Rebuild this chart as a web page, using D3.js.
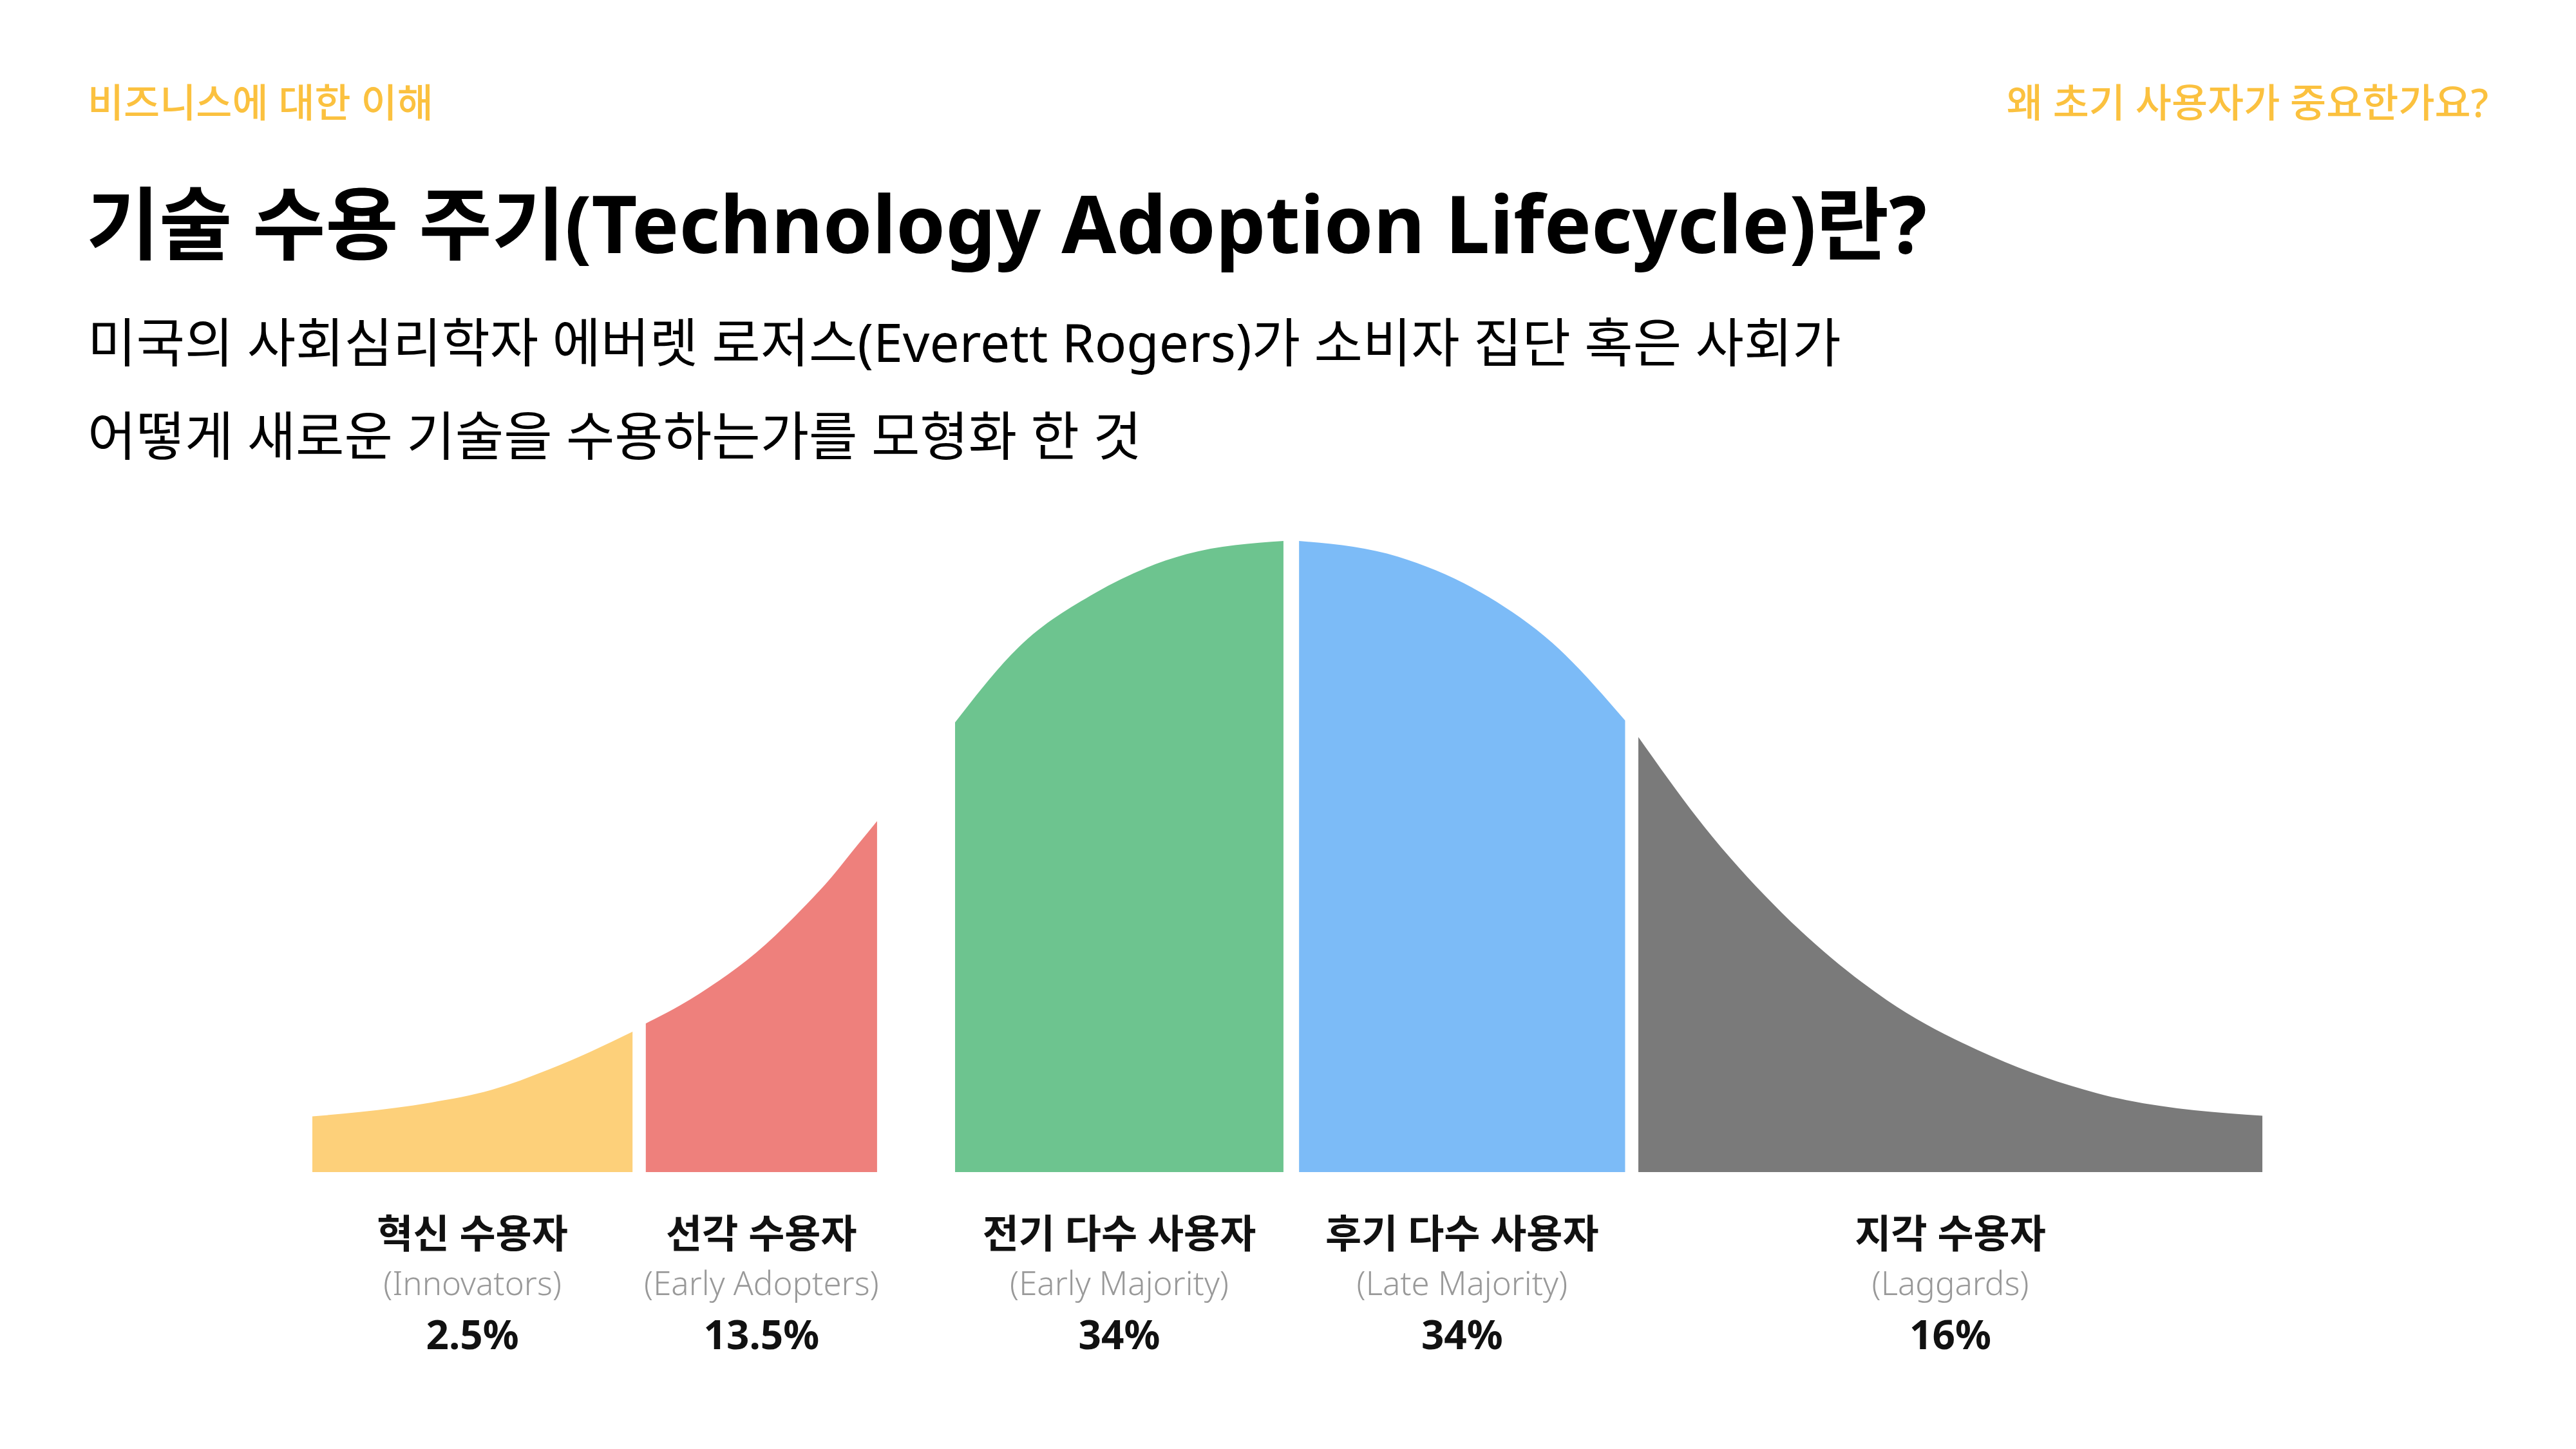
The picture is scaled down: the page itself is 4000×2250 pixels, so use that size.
<!DOCTYPE html>
<html lang="ko">
<head>
<meta charset="utf-8">
<script src="https://cdn.jsdelivr.net/npm/d3@7"></script>
<style>
    body { margin: 0; background: #ffffff; }
    text { font-family: "Noto Sans", "Noto Sans CJK KR", sans-serif; }
</style>
</head>
<body>
<script>
// Adopter groups
const groupNames = ["혁신 수용자", "선각 수용자", "전기 다수 사용자", "후기 다수 사용자", "지각 수용자"];
const groupNamesEn = ["(Innovators)", "(Early Adopters)", "(Early Majority)", "(Late Majority)", "(Laggards)"];
const groupShares = [2.5, 13.5, 34, 34, 16];

// Where each group starts and ends on the curve (in standard deviations)
const groupStart = [-2.5, -1.645, -0.852, 0.03, 0.9];
const groupEnd = [-1.679, -1.052, -0.01, 0.866, 2.5];

// Bell curve (x in standard deviations, height relative to the peak)
const curveX = [-2.5, -2.379, -2.195, -2.04, -1.895, -1.788, -1.679,
    -1.645, -1.556, -1.459, -1.362, -1.265, -1.168, -1.101, -1.052,
    -0.852, -0.689, -0.492, -0.259, -0.01,
    0.03, 0.284, 0.517, 0.679, 0.866,
    0.9, 1.09, 1.268, 1.537, 1.806, 2.074, 2.5];
const curveH = [0.088, 0.095, 0.11, 0.13, 0.162, 0.19, 0.222,
    0.235, 0.264, 0.302, 0.347, 0.403, 0.467, 0.518, 0.555,
    0.711, 0.83, 0.916, 0.977, 0.998,
    0.998, 0.973, 0.909, 0.837, 0.714,
    0.688, 0.53, 0.41, 0.272, 0.183, 0.125, 0.089];

const groupColors = ["#fdd07a", "#ee807c", "#6dc48f", "#7cbbf7", "#7a7a7a"];

let svg = d3.select("body").append("svg")
    .attr("width", 4000)
    .attr("height", 2250);

// Header texts
svg.append("text")
    .attr("x", 136)
    .attr("y", 182)
    .attr("font-size", 61)
    .attr("font-weight", 500)
    .attr("fill", "#fbc13f")
    .text("비즈니스에 대한 이해");

svg.append("text")
    .attr("x", 3864)
    .attr("y", 182)
    .attr("text-anchor", "end")
    .attr("font-size", 61)
    .attr("font-weight", 500)
    .attr("fill", "#fbc13f")
    .text("왜 초기 사용자가 중요한가요?");

svg.append("text")
    .attr("x", 134)
    .attr("y", 393)
    .attr("font-size", 123)
    .attr("font-weight", 700)
    .attr("fill", "#000000")
    .text("기술 수용 주기(Technology Adoption Lifecycle)란?");

let subtitle = ["미국의 사회심리학자 에버렛 로저스(Everett Rogers)가 소비자 집단 혹은 사회가",
    "어떻게 새로운 기술을 수용하는가를 모형화 한 것"];

svg.selectAll(".subtitle")
    .data(subtitle)
    .enter().append("text")
        .attr("class", "subtitle")
        .attr("x", 136)
        .attr("y", (d, i) => 562 + i * 145)
        .attr("font-size", 82)
        .attr("fill", "#000000")
        .text(d => d);

// Scales
let x = d3.scaleLinear().domain([-2.5, 2.5]).range([485, 3513]),
    y = d3.scaleLinear().domain([0, 1]).range([1820, 838]);

let curvePoints = curveX.map((v, i) => [v, curveH[i]]);

let area = d3.area()
    .x(d => x(d[0]))
    .y0(y(0))
    .y1(d => y(d[1]))
    .curve(d3.curveMonotoneX);

// One filled piece of the curve per group
svg.selectAll(".segment")
    .data(groupNames)
    .enter().append("path")
        .attr("class", "segment")
        .attr("d", (d, i) => area(curvePoints.filter(p => p[0] >= groupStart[i] - 1e-6 && p[0] <= groupEnd[i] + 1e-6)))
        .attr("fill", (d, i) => groupColors[i]);

// Labels under each piece
let labels = svg.selectAll(".label")
    .data(groupNames)
    .enter().append("g")
        .attr("class", "label")
        .attr("transform", (d, i) => "translate(" + x((groupStart[i] + groupEnd[i]) / 2) + ",0)");

labels.append("text")
    .attr("y", 1938)
    .attr("text-anchor", "middle")
    .attr("font-size", 61)
    .attr("font-weight", 700)
    .attr("fill", "#111111")
    .text(d => d);

labels.append("text")
    .attr("y", 2011)
    .attr("text-anchor", "middle")
    .attr("font-size", 51)
    .attr("font-weight", 300)
    .attr("fill", "#999999")
    .text((d, i) => groupNamesEn[i]);

labels.append("text")
    .attr("y", 2095)
    .attr("text-anchor", "middle")
    .attr("font-size", 62)
    .attr("font-weight", 700)
    .attr("fill", "#111111")
    .text((d, i) => groupShares[i] + "%");
</script>
</body>
</html>
